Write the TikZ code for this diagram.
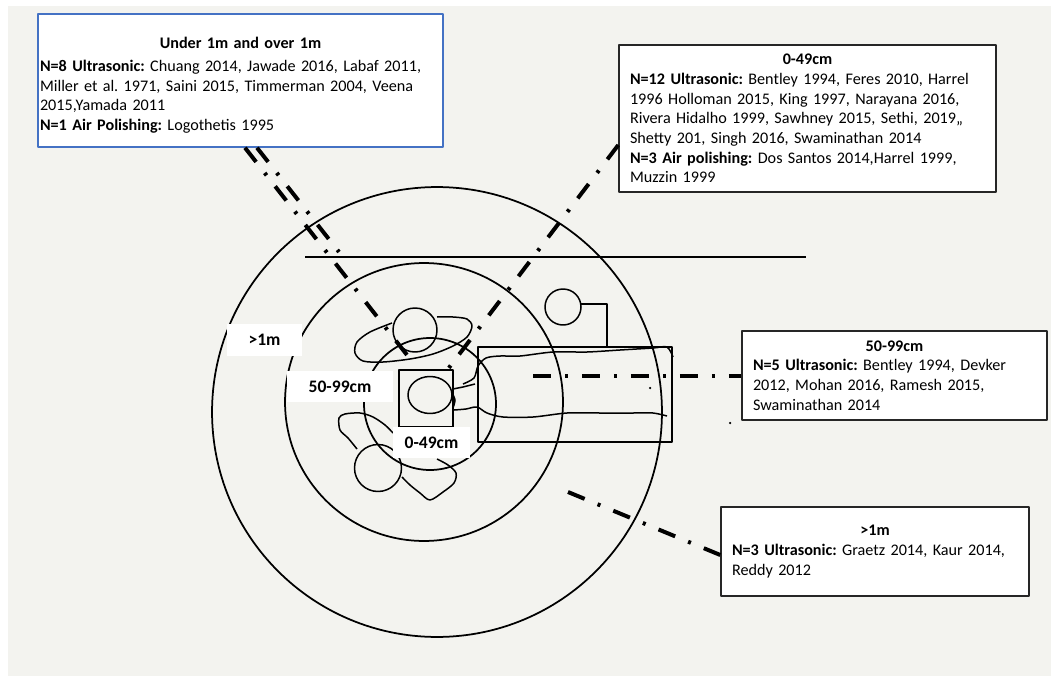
\documentclass[tikz,border=0pt]{standalone}
\usepackage{fontspec}
\setmainfont{Carlito}
\frenchspacing
\definecolor{paper}{RGB}{243,243,239}
\definecolor{boxblue}{RGB}{68,114,196}
\begin{document}
\begin{tikzpicture}[x=0.02cm,y=-0.02cm,line join=round,
  leader/.style={line width=0.08cm,dash pattern=on 0.36cm off 0.28cm on 0.06cm off 0.28cm},
  sketch/.style={line width=0.03cm},
  ring/.style={line width=0.035cm},
  infobox/.style={draw=black!85,line width=0.03cm,fill=white,inner xsep=0.22cm,inner ysep=0pt,
    align=left,font=\fontsize{9.2}{11.2}\selectfont},
  tag/.style={fill=white,inner sep=0pt,minimum height=0.63cm,font=\fontsize{10}{12}\selectfont\bfseries}]
% 背景
\useasboundingbox (0,0) rectangle (1051,676);
\fill[white] (0,0) rectangle (1051,676);
\fill[paper] (8,6) rectangle (1051,676);
% 同心円
\draw[ring] (437,412) circle[radius=4.5cm];
\draw[ring] (424,402) circle[radius=2.78cm];
\draw[ring] (430,404) circle[radius=1.32cm];
% 水平線
\draw[sketch] (305,257) -- (806,257);
% 右上の円
\draw[sketch] (563,307) circle[radius=0.36cm];
\draw[sketch] (581,304) -- (607,304) -- (607,347);
% 台
\draw[sketch] (478,347) rectangle (672,442);
\draw[sketch] plot[smooth] coordinates {(463,384) (474,378) (478,366) (486,358) (500,356) (520,356) (553,352) (587,352) (620,350) (653,348) (667,347) (673,357)};
\draw[sketch] plot[smooth] coordinates {(454,410) (466,409) (477,407) (487,413) (503,417) (533,417) (567,413) (600,413) (633,413) (653,413) (667,416)};
\draw[sketch] (453,389) -- (463,387) -- (475,384);
\fill (650,388) circle[radius=0.025cm];
\fill (730,423) circle[radius=0.025cm];
% 人物
\draw[sketch] (415,330) circle[radius=0.44cm];
\draw[sketch] plot[smooth] coordinates {(437,317) (453,317) (467,319) (472,326) (467,337) (453,346) (433,354) (410,359) (383,362) (363,361) (355,353) (357,342) (370,332) (392,323)};
\draw[sketch] (399,370) rectangle (453,427);
\draw[sketch] (430,395) ellipse[x radius=0.44cm,y radius=0.37cm];
\draw[sketch] plot[smooth] coordinates {(452,393) (455,400) (453,408)};
\draw[sketch] (378,468) circle[radius=0.47cm];
\draw[sketch] plot[smooth] coordinates {(357,449) (348,438) (340,430) (339,418) (345,414) (360,413) (373,417) (385,425) (393,433)};
\draw[sketch] plot[smooth] coordinates {(437,459) (448,465) (456,473) (454,483) (443,492) (430,500) (420,493) (410,485) (402,477)};
% ラベル
\node[tag,minimum width=1.5cm] (far) at (264.5,340) {>1m};
\node[tag,minimum width=2.12cm] (mid) at (340,386.5) {50-99cm};
\node[tag,minimum width=1.54cm] (near) at (431.5,442.5) {0-49cm};
% 文献ボックス
\node[infobox,draw=boxblue,inner xsep=0.04cm,text width=8.02cm,minimum height=2.66cm] (ubox) at (240.5,80.5)
  {{\centering\bfseries\rule{0pt}{0.42cm}Under 1m and over 1m\par}\vspace{0.06cm}
   \textbf{N=8 Ultrasonic:} Chuang 2014, Jawade 2016, Labaf 2011,\\
   Miller et al. 1971, Saini 2015, Timmerman 2004, Veena\\
   2015,Yamada 2011\\
   \textbf{N=1 Air Polishing:} Logothetis 1995};
\node[infobox,text width=7.1cm,minimum height=2.94cm] (abox) at (807.5,118.5)
  {{\centering\bfseries 0-49cm\par}
   \textbf{N=12 Ultrasonic:} Bentley 1994, Feres 2010, Harrel\\
   1996 Holloman 2015, King 1997, Narayana 2016,\\
   Rivera Hidalho 1999, Sawhney 2015, Sethi, 2019,,\\
   Shetty 201, Singh 2016, Swaminathan 2014\\
   \textbf{N=3 Air polishing:} Dos Santos 2014,Harrel 1999,\\
   Muzzin 1999};
\node[infobox,text width=5.66cm,minimum height=1.78cm] (bbox) at (894.5,375.5)
  {{\centering\bfseries 50-99cm\par}
   \textbf{N=5 Ultrasonic:} Bentley 1994, Devker\\
   2012, Mohan 2016, Ramesh 2015,\\
   Swaminathan 2014};
\node[infobox,text width=5.72cm,minimum height=1.78cm] (cbox) at (875,551.5)
  {{\centering\bfseries >1m\par}
   \textbf{N=3 Ultrasonic:} Graetz 2014, Kaur 2014,\\
   Reddy 2012};
% 引き出し線
\coordinate (uend) at (407,355);
\coordinate (uend2) at (339,252);
\coordinate (aend) at (448,369);
\coordinate (bstart) at (533,376);
\coordinate (cstart) at (568,492);
\draw[leader] ([xshift=0.09cm]ubox.south) -- (uend);
\draw[leader] ([xshift=0.33cm]ubox.south) -- (uend2);
\draw[leader] ([yshift=-0.53cm]abox.west) -- (aend);
\draw[leader] (bstart) -- (bstart -| bbox.west);
\draw[leader] (cstart) -- ([yshift=-0.07cm]cbox.west);
\end{tikzpicture}
\end{document}
